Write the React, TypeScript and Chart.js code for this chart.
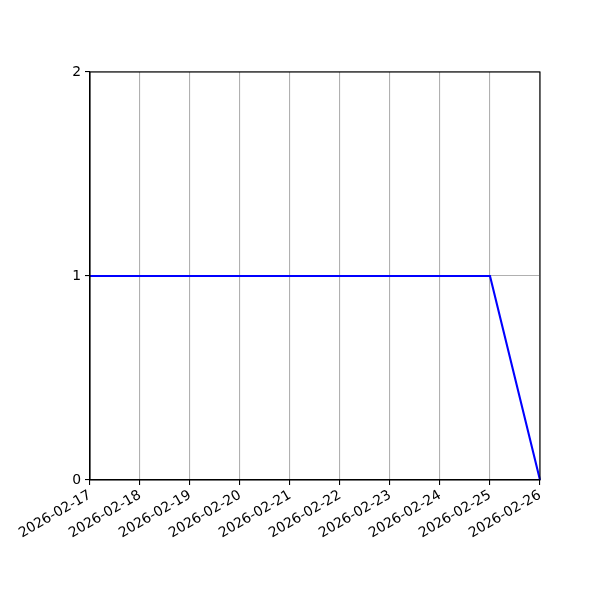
import React, { useEffect, useRef } from "react";
import { Chart, registerables } from "chart.js";

Chart.register(...registerables);

const dates = [
  "2026-02-17",
  "2026-02-18",
  "2026-02-19",
  "2026-02-20",
  "2026-02-21",
  "2026-02-22",
  "2026-02-23",
  "2026-02-24",
  "2026-02-25",
  "2026-02-26",
];
const values = [1, 1, 1, 1, 1, 1, 1, 1, 1, 0];
const yTicks = [0, 1, 2];

const boxPlugin = {
  id: "box",
  afterDraw(chart: any) {
    const { ctx, chartArea } = chart;
    ctx.save();
    ctx.strokeStyle = "#000";
    ctx.lineWidth = 1.1;
    ctx.strokeRect(chartArea.left, chartArea.top, chartArea.right - chartArea.left, chartArea.bottom - chartArea.top);
    ctx.restore();
  },
};

export default function App() {
  const ref = useRef<HTMLCanvasElement>(null);
  useEffect(() => {
    const font = { family: "DejaVu Sans", size: 13.9 };
    const chart = new Chart(ref.current!, {
      type: "line",
      data: {
        labels: dates,
        datasets: [
          {
            data: values,
            borderColor: "#0000ff",
            borderWidth: 2.1,
            pointRadius: 0,
            tension: 0,
            fill: false,
          },
        ],
      },
      options: {
        animation: false,
        responsive: false,
        devicePixelRatio: 1,
        layout: { padding: { left: 0, top: 72, right: 60, bottom: 0 } },
        plugins: { legend: { display: false }, tooltip: { enabled: false } },
        scales: {
          x: {
            type: "category",
            offset: false,
            grid: { color: "#b0b0b0", lineWidth: 1.1, tickColor: "#000", tickLength: 5, offset: false },
            border: { color: "#000", width: 1.1 },
            ticks: { color: "#000", font, maxRotation: 30, minRotation: 30, autoSkip: false, padding: 2 },
            afterFit(scale: any) {
              scale.height = 120;
            },
          },
          y: {
            min: 0,
            max: 2,
            afterBuildTicks(scale: any) {
              scale.ticks = yTicks.map((v) => ({ value: v }));
            },
            grid: { color: "#b0b0b0", lineWidth: 1.1, tickColor: "#000", tickLength: 5 },
            border: { color: "#000", width: 1.1 },
            ticks: { color: "#000", font, padding: 4 },
            afterFit(scale: any) {
              scale.width = 90;
            },
          },
        },
      },
      plugins: [boxPlugin],
    });
    return () => chart.destroy();
  }, []);
  return (
    <div style={{ position: "fixed", left: 0, top: 0, width: 600, height: 600, background: "#fff" }}>
      <canvas ref={ref} width={600} height={600} style={{ width: 600, height: 600 }} />
    </div>
  );
}
